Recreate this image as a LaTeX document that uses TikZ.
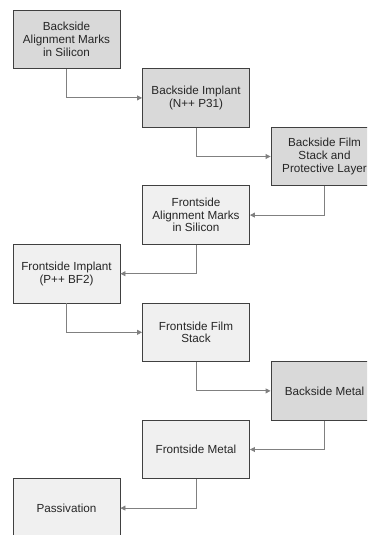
\documentclass[tikz,border=0pt]{standalone}
\usepackage{fontspec}
\setmainfont{Liberation Sans}
\usetikzlibrary{arrows.meta}
\definecolor{backfill}{RGB}{217,217,217}
\definecolor{frontfill}{RGB}{240,240,240}
\definecolor{boxedge}{RGB}{64,64,64}
\definecolor{flowgray}{RGB}{128,128,128}

\begin{document}
\begin{tikzpicture}[
  x=1pt, y=-1pt,
  procbox/.style={draw=boxedge, line width=0.9pt, minimum width=107pt, minimum height=58.6pt,
    inner sep=0pt, align=center, text=black!85, font=\fontsize{11.7}{12.7}\selectfont},
  backstep/.style={procbox, fill=backfill},
  frontstep/.style={procbox, fill=frontfill},
  flow/.style={-{Triangle[length=5pt, width=5pt]}, flowgray, line width=0.9pt}
]
\useasboundingbox (0,0) rectangle (367,535);
\clip (0,0) rectangle (367,535);

\node[backstep]  (bsmarks)   at (66.5,39.3)  {Backside\\Alignment Marks\\in Silicon};
\node[backstep]  (bsimplant) at (196,97.9)   {Backside Implant\\(N++ P31)};
\node[backstep]  (bsfilm)    at (324.5,156.5) {Backside Film\\Stack and\\Protective Layer};
\node[frontstep] (fsmarks)   at (196,215.1)  {Frontside\\Alignment Marks\\in Silicon};
\node[frontstep] (fsimplant) at (66.5,273.7) {Frontside Implant\\(P++ BF2)};
\node[frontstep] (fsfilm)    at (196,332.3)  {Frontside Film\\Stack};
\node[backstep]  (bsmetal)   at (324.5,390.9) {Backside Metal};
\node[frontstep] (fsmetal)   at (196,449.5)  {Frontside Metal};
\node[frontstep] (passiv)    at (66.5,508.1) {Passivation};

\draw[flow] (bsmarks.south)   |- (bsimplant.west);
\draw[flow] (bsimplant.south) |- (bsfilm.west);
\draw[flow] (bsfilm.south)    |- (fsmarks.east);
\draw[flow] (fsmarks.south)   |- (fsimplant.east);
\draw[flow] (fsimplant.south) |- (fsfilm.west);
\draw[flow] (fsfilm.south)    |- (bsmetal.west);
\draw[flow] (bsmetal.south)   |- (fsmetal.east);
\draw[flow] (fsmetal.south)   |- (passiv.east);
\end{tikzpicture}
\end{document}
